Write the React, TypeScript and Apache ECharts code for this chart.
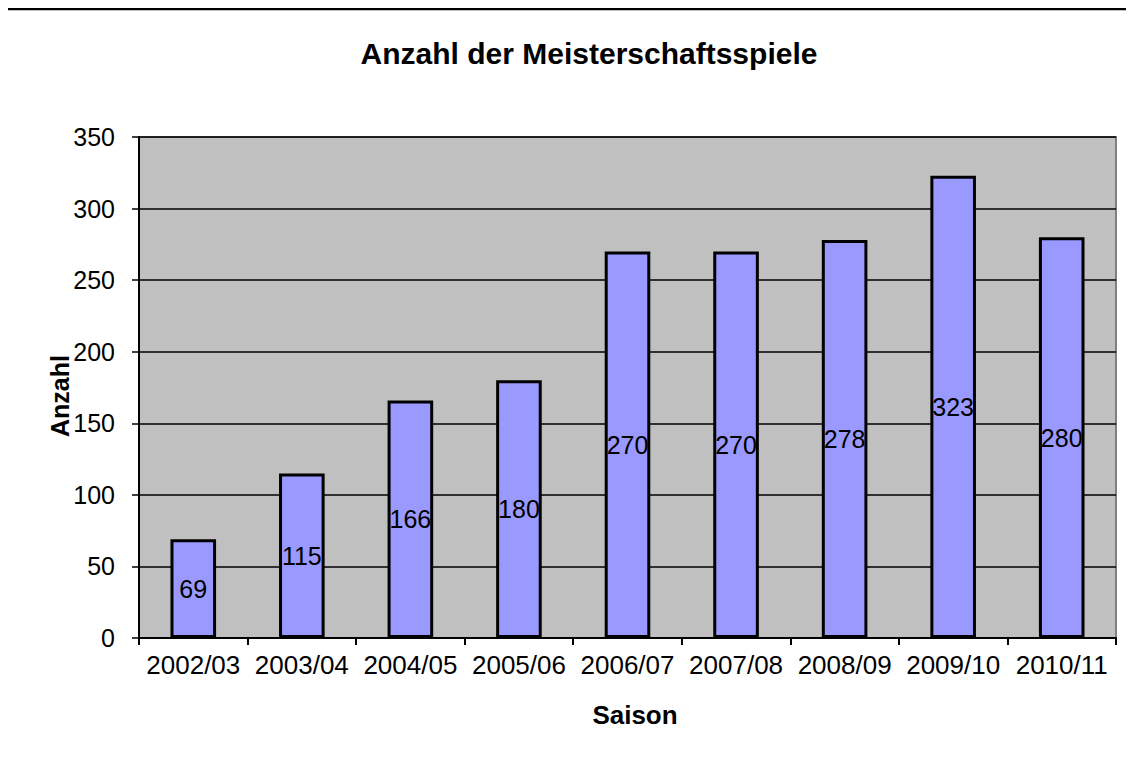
import React, { useEffect, useRef } from "react";
import * as echarts from "echarts";

const seasons = ["2002/03", "2003/04", "2004/05", "2005/06", "2006/07", "2007/08", "2008/09", "2009/10", "2010/11"];
const games = [69, 115, 166, 180, 270, 270, 278, 323, 280];
const yTicks = { min: 0, max: 350, interval: 50 };
const titleText = "Anzahl der Meisterschaftsspiele";
const yName = "Anzahl";
const xName = "Saison";

export default function App() {
  const ref = useRef<HTMLDivElement>(null);
  useEffect(() => {
    const chart = echarts.init(ref.current!, null, { renderer: "svg" });
    const font = "'Liberation Sans', Arial, sans-serif";
    chart.setOption({
      animation: false,
      backgroundColor: "#ffffff",
      textStyle: { fontFamily: font },
      grid: { left: 131, top: 129, width: 977, height: 501, show: true, backgroundColor: "#C0C0C0", borderColor: "#808080", borderWidth: 2 },
      graphic: [
        { type: "line", shape: { x1: -1, y1: 1, x2: 1150, y2: 1 }, style: { stroke: "#000", lineWidth: 2.5 } },
        { type: "line", shape: { x1: -1, y1: 1, x2: -1, y2: 760 }, style: { stroke: "#000", lineWidth: 2 } },
        { type: "text", x: 581, y: 45, style: { text: titleText, font: `bold 30px ${font}`, fill: "#000", textAlign: "center", textVerticalAlign: "middle" } },
        { type: "text", x: 52, y: 388, rotation: Math.PI / 2, style: { text: yName, font: `bold 25px ${font}`, fill: "#000", textAlign: "center", textVerticalAlign: "middle" } },
        { type: "text", x: 627, y: 707, style: { text: xName, font: `bold 26px ${font}`, fill: "#000", textAlign: "center", textVerticalAlign: "middle" } },
      ],
      xAxis: {
        type: "category",
        data: seasons,
        boundaryGap: true,
        axisLine: { lineStyle: { color: "#000", width: 2 } },
        axisTick: { show: true, length: 7, inside: false, interval: 0, lineStyle: { color: "#000", width: 2 } },
        axisLabel: { color: "#000", fontSize: 26, margin: 14, interval: 0, fontFamily: font },
        splitLine: { show: false },
      },
      yAxis: {
        type: "value",
        min: yTicks.min,
        max: yTicks.max,
        interval: yTicks.interval,
        axisLine: { show: true, lineStyle: { color: "#000", width: 2 } },
        axisTick: { show: true, length: 7, lineStyle: { color: "#000", width: 1.5 } },
        axisLabel: { color: "#000", fontSize: 25, margin: 24, fontFamily: font },
        splitLine: { show: true, lineStyle: { color: "#000", width: 1.5 } },
      },
      series: [
        {
          type: "bar",
          data: games,
          barWidth: "42%",
          itemStyle: { color: "#9999FF", borderColor: "#000", borderWidth: 3 },
          label: { show: true, position: "inside", color: "#000", fontSize: 25, fontFamily: font },
        },
      ],
    });
    return () => chart.dispose();
  }, []);
  return <div ref={ref} style={{ width: 1118, height: 750 }} />;
}
